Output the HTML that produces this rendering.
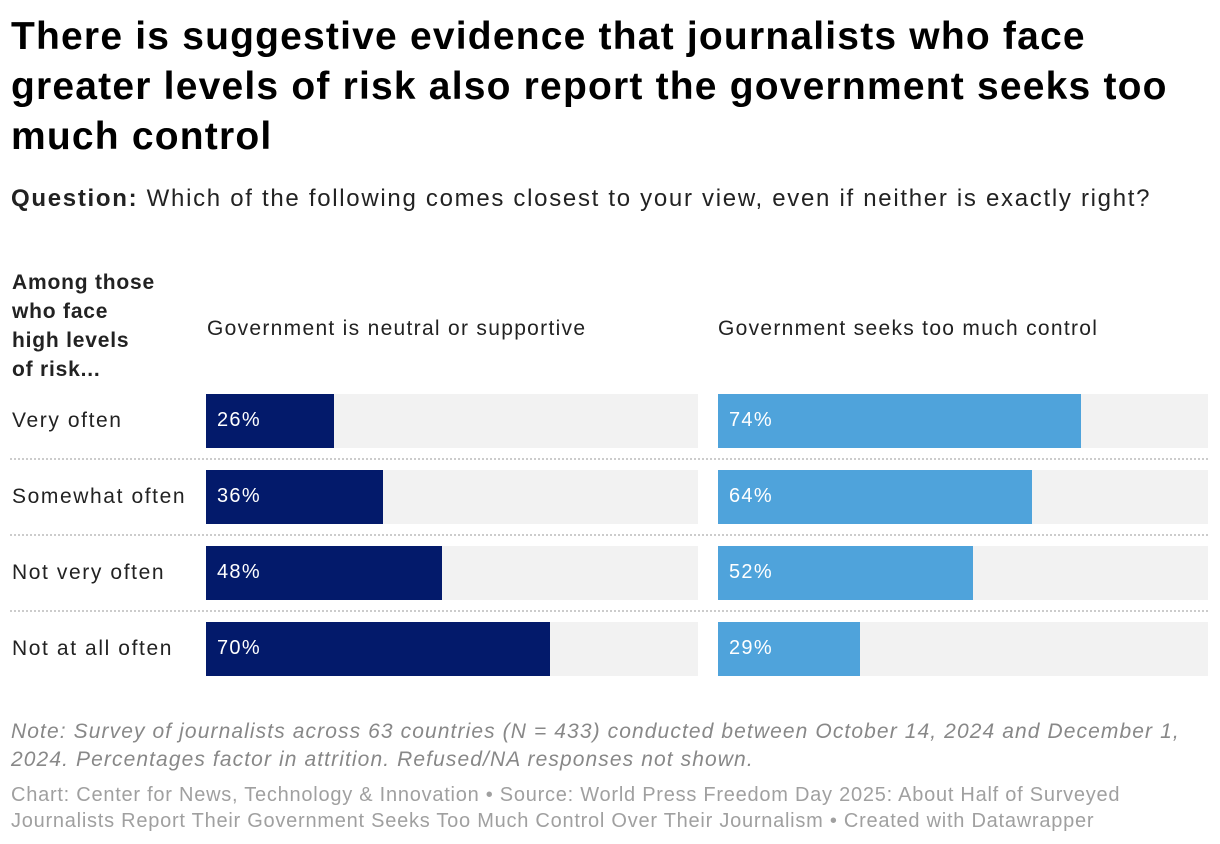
<!DOCTYPE html>
<html><head><meta charset="utf-8"><style>
body{margin:0;width:1220px;height:844px;background:#fff;font-family:"Liberation Sans",Arial,sans-serif;position:relative;overflow:hidden}
.abs{position:absolute;white-space:nowrap}
h1{position:absolute;left:11px;top:12px;margin:0;font-size:39px;line-height:50px;font-weight:bold;color:#000;width:1210px;letter-spacing:1.2px}
</style></head><body>
<h1>There is suggestive evidence that journalists who face<br>greater levels of risk also report the government seeks too<br>much control</h1>
<div class="abs" style="left:11px;top:185px;font-size:24px;color:#222;letter-spacing:1.7px"><b>Question:</b> Which of the following comes closest to your view, even if neither is exactly right?</div>
<div class="abs" style="left:12px;top:268px;font-size:21px;line-height:29px;font-weight:bold;color:#222;letter-spacing:0.8px">Among those<br>who face<br>high levels<br>of risk...</div>
<div class="abs" style="left:207px;top:317px;font-size:21px;color:#222;letter-spacing:1.3px">Government is neutral or supportive</div>
<div class="abs" style="left:718px;top:317px;font-size:21px;color:#222;letter-spacing:1.3px">Government seeks too much control</div>
<div id="chart"></div>
<div class="abs" style="left:11px;top:718px;font-size:21px;line-height:28px;font-style:italic;color:#888;letter-spacing:1.1px">Note: Survey of journalists across 63 countries (N = 433) conducted between October 14, 2024 and December 1,<br>2024. Percentages factor in attrition. Refused/NA responses not shown.</div>
<div class="abs" style="left:11px;top:782px;font-size:20px;line-height:26px;color:#a0a0a0;letter-spacing:0.75px">Chart: Center for News, Technology &amp; Innovation • Source: World Press Freedom Day 2025: About Half of Surveyed<br>Journalists Report Their Government Seeks Too Much Control Over Their Journalism • Created with Datawrapper</div>
<script>
const categories=["Very often","Somewhat often","Not very often","Not at all often"];
const neutralValues=[26,36,48,70];
const controlValues=[74,64,52,29];
const chart=document.getElementById('chart');
function xScale(v,w){return w*v/100;}
function rowY(i){return 394+i*76;}
function add(css,txt){const d=document.createElement('div');d.className='abs';d.style.cssText=css;if(txt!==undefined)d.textContent=txt;chart.appendChild(d);return d;}
categories.forEach((c,i)=>{
 const y=rowY(i);
 const l=add(`left:12px;top:${y+15}px;font-size:21px;color:#222;letter-spacing:1.6px`,c);
 
 
 [[206,492,neutralValues[i],'#031a6b','neutral'],[718,490,controlValues[i],'#4fa3db','control']].forEach(([x0,w,v,col,k])=>{
  const bg=add(`left:${x0}px;top:${y}px;width:${w}px;height:54px;background:#f2f2f2`);
  
  
  const b=add(`left:${x0}px;top:${y}px;width:${xScale(v,w)}px;height:54px;background:${col}`);
  
  
  const t=add(`left:${x0+11}px;top:${y+15}px;font-size:20px;color:#fff;letter-spacing:1.3px`,v+'%');
  
  
 });
 if(i<categories.length-1){
  const s=add(`left:10px;top:${y+64}px;width:1198px;height:0;border-top:2px dotted #ccc`);
  
  
 }
});
</script>
</body></html>
